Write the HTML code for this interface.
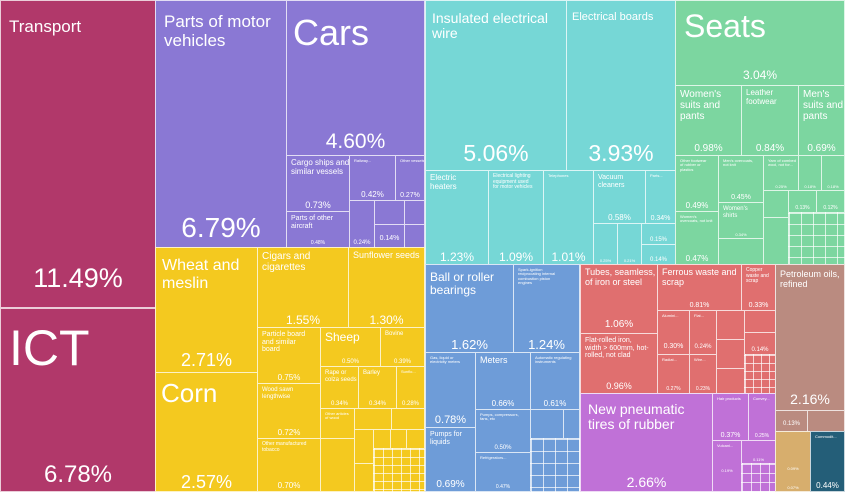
<!DOCTYPE html><html><head><style>
body{margin:0;width:845px;height:492px;overflow:hidden;background:#fff;font-family:"Liberation Sans",sans-serif;color:#fff}
.b{position:absolute;box-sizing:border-box;border:1px solid rgba(255,255,255,.75);overflow:hidden}
.t{position:absolute;left:4px;top:3px;line-height:1.1;font-weight:normal;white-space:nowrap}
.p{position:absolute;left:0;right:0;text-align:center;bottom:1px;line-height:1}
</style></head><body>
<div class="b" style="left:0;top:0;width:156px;height:308px;background:#B1386A"><div class="t" style="font-size:17px;top:17px;left:8px">Transport</div><div class="p" style="font-size:27px;bottom:15px">11.49%</div></div>
<div class="b" style="left:0;top:308px;width:156px;height:184px;background:#B1386A"><div class="t" style="font-size:50px;top:12px;left:8px">ICT</div><div class="p" style="font-size:24px;bottom:4px">6.78%</div></div>
<div class="b" style="left:155px;top:0;width:132px;height:248px;background:#8A78D4"><div class="t" style="font-size:17px;top:12px;left:8px">Parts of motor<br>vehicles</div><div class="p" style="font-size:28px;bottom:5px">6.79%</div></div>
<div class="b" style="left:286px;top:0;width:139px;height:156px;background:#8A78D4"><div class="t" style="font-size:36px;top:12px;left:6px">Cars</div><div class="p" style="font-size:21px;bottom:3px">4.60%</div></div>
<div class="b" style="left:286px;top:155px;width:64px;height:57px;background:#8A78D4"><div class="t" style="font-size:8px">Cargo ships and<br>similar vessels</div><div class="p" style="font-size:9px">0.73%</div></div>
<div class="b" style="left:286px;top:211px;width:64px;height:37px;background:#8A78D4"><div class="t" style="font-size:7px">Parts of other<br>aircraft</div><div class="p" style="font-size:5px">0.48%</div></div>
<div class="b" style="left:349px;top:155px;width:47px;height:46px;background:#8A78D4"><div class="t" style="font-size:4px">Railway...</div><div class="p" style="font-size:8px">0.42%</div></div>
<div class="b" style="left:395px;top:155px;width:30px;height:46px;background:#8A78D4"><div class="t" style="font-size:4px">Other vessels</div><div class="p" style="font-size:7px">0.27%</div></div>
<div class="b" style="left:349px;top:200px;width:26px;height:48px;background:#8A78D4"><div class="p" style="font-size:6px">0.24%</div></div>
<div class="b" style="left:374px;top:200px;width:31px;height:25px;background:#8A78D4"></div>
<div class="b" style="left:404px;top:200px;width:21px;height:25px;background:#8A78D4"></div>
<div class="b" style="left:374px;top:224px;width:31px;height:24px;background:#8A78D4"><div class="p" style="font-size:7px;bottom:5px">0.14%</div></div>
<div class="b" style="left:404px;top:224px;width:21px;height:24px;background:#8A78D4"></div>
<div class="b" style="left:155px;top:247px;width:103px;height:126px;background:#F4C91F"><div class="t" style="font-size:16px;top:9px;left:6px">Wheat and<br>meslin</div><div class="p" style="font-size:18px;bottom:3px">2.71%</div></div>
<div class="b" style="left:155px;top:372px;width:103px;height:120px;background:#F4C91F"><div class="t" style="font-size:26px;top:6px;left:5px">Corn</div><div class="p" style="font-size:18px;bottom:0">2.57%</div></div>
<div class="b" style="left:257px;top:247px;width:92px;height:81px;background:#F4C91F"><div class="t" style="font-size:10px">Cigars and<br>cigarettes</div><div class="p" style="font-size:12px">1.55%</div></div>
<div class="b" style="left:348px;top:247px;width:77px;height:81px;background:#F4C91F"><div class="t" style="font-size:9px">Sunflower seeds</div><div class="p" style="font-size:12px">1.30%</div></div>
<div class="b" style="left:257px;top:327px;width:64px;height:57px;background:#F4C91F"><div class="t" style="font-size:7px">Particle board<br>and similar<br>board</div><div class="p" style="font-size:8px">0.75%</div></div>
<div class="b" style="left:257px;top:383px;width:64px;height:56px;background:#F4C91F"><div class="t" style="font-size:6px">Wood sawn<br>lengthwise</div><div class="p" style="font-size:8px">0.72%</div></div>
<div class="b" style="left:257px;top:438px;width:64px;height:54px;background:#F4C91F"><div class="t" style="font-size:5px">Other manufactured<br>tobacco</div><div class="p" style="font-size:8px">0.70%</div></div>
<div class="b" style="left:320px;top:327px;width:61px;height:40px;background:#F4C91F"><div class="t" style="font-size:12px">Sheep</div><div class="p" style="font-size:6px">0.50%</div></div>
<div class="b" style="left:380px;top:327px;width:45px;height:40px;background:#F4C91F"><div class="t" style="font-size:6px">Bovine</div><div class="p" style="font-size:6px">0.39%</div></div>
<div class="b" style="left:320px;top:366px;width:39px;height:43px;background:#F4C91F"><div class="t" style="font-size:6px">Rape or<br>colza seeds</div><div class="p" style="font-size:6px">0.34%</div></div>
<div class="b" style="left:358px;top:366px;width:39px;height:43px;background:#F4C91F"><div class="t" style="font-size:6px">Barley</div><div class="p" style="font-size:6px">0.34%</div></div>
<div class="b" style="left:396px;top:366px;width:29px;height:43px;background:#F4C91F"><div class="t" style="font-size:4px">Sunflo...</div><div class="p" style="font-size:6px">0.28%</div></div>
<div class="b" style="left:320px;top:408px;width:35px;height:31px;background:#F4C91F"><div class="t" style="font-size:4px">Other articles<br>of wood</div></div>
<div class="b" style="left:320px;top:438px;width:35px;height:54px;background:#F4C91F"></div>
<div class="b" style="left:354px;top:408px;width:38px;height:22px;background:#F4C91F"></div>
<div class="b" style="left:391px;top:408px;width:34px;height:22px;background:#F4C91F"></div>
<div class="b" style="left:354px;top:429px;width:20px;height:35px;background:#F4C91F"></div>
<div class="b" style="left:373px;top:429px;width:18px;height:20px;background:#F4C91F"></div>
<div class="b" style="left:390px;top:429px;width:17px;height:20px;background:#F4C91F"></div>
<div class="b" style="left:406px;top:429px;width:19px;height:20px;background:#F4C91F"></div>
<div class="b" style="left:354px;top:463px;width:20px;height:29px;background:#F4C91F"></div>
<div class="b" style="left:373px;top:448px;width:52px;height:44px;background:#F4C91F;background-image:linear-gradient(90deg,rgba(255,255,255,.7) 1px,transparent 1px),linear-gradient(rgba(255,255,255,.7) 1px,transparent 1px);background-size:9px 8px"></div>
<div class="b" style="left:425px;top:0;width:142px;height:171px;background:#76D7D6"><div class="t" style="font-size:14px;top:10px;left:6px">Insulated electrical<br>wire</div><div class="p" style="font-size:23px;bottom:5px">5.06%</div></div>
<div class="b" style="left:566px;top:0;width:110px;height:171px;background:#76D7D6"><div class="t" style="font-size:11px;top:10px;left:5px">Electrical boards</div><div class="p" style="font-size:23px;bottom:5px">3.93%</div></div>
<div class="b" style="left:425px;top:170px;width:64px;height:95px;background:#76D7D6"><div class="t" style="font-size:8px">Electric<br>heaters</div><div class="p" style="font-size:12px">1.23%</div></div>
<div class="b" style="left:488px;top:170px;width:56px;height:95px;background:#76D7D6"><div class="t" style="font-size:5px">Electrical lighting<br>equipment used<br>for motor vehicles</div><div class="p" style="font-size:12px">1.09%</div></div>
<div class="b" style="left:543px;top:170px;width:51px;height:95px;background:#76D7D6"><div class="t" style="font-size:4px">Telephones</div><div class="p" style="font-size:12px">1.01%</div></div>
<div class="b" style="left:593px;top:170px;width:53px;height:54px;background:#76D7D6"><div class="t" style="font-size:7px">Vacuum<br>cleaners</div><div class="p" style="font-size:8px">0.58%</div></div>
<div class="b" style="left:645px;top:170px;width:31px;height:54px;background:#76D7D6"><div class="t" style="font-size:4px">Parts...</div><div class="p" style="font-size:7px">0.34%</div></div>
<div class="b" style="left:593px;top:223px;width:25px;height:42px;background:#76D7D6"><div class="p" style="font-size:4px">0.25%</div></div>
<div class="b" style="left:617px;top:223px;width:25px;height:42px;background:#76D7D6"><div class="p" style="font-size:4px">0.21%</div></div>
<div class="b" style="left:641px;top:223px;width:35px;height:22px;background:#76D7D6"><div class="p" style="font-size:6px">0.15%</div></div>
<div class="b" style="left:641px;top:244px;width:35px;height:21px;background:#76D7D6"><div class="p" style="font-size:6px">0.14%</div></div>
<div class="b" style="left:675px;top:0;width:170px;height:86px;background:#7CD6A0"><div class="t" style="font-size:32px;top:8px;left:8px">Seats</div><div class="p" style="font-size:12px;bottom:4px">3.04%</div></div>
<div class="b" style="left:675px;top:85px;width:67px;height:71px;background:#7CD6A0"><div class="t" style="font-size:10px">Women's<br>suits and<br>pants</div><div class="p" style="font-size:10px">0.98%</div></div>
<div class="b" style="left:741px;top:85px;width:58px;height:71px;background:#7CD6A0"><div class="t" style="font-size:8px">Leather<br>footwear</div><div class="p" style="font-size:10px">0.84%</div></div>
<div class="b" style="left:798px;top:85px;width:47px;height:71px;background:#7CD6A0"><div class="t" style="font-size:10px">Men's<br>suits and<br>pants</div><div class="p" style="font-size:10px">0.69%</div></div>
<div class="b" style="left:675px;top:155px;width:44px;height:57px;background:#7CD6A0"><div class="t" style="font-size:4px">Other footwear<br>of rubber or<br>plastics</div><div class="p" style="font-size:8px">0.49%</div></div>
<div class="b" style="left:675px;top:211px;width:44px;height:54px;background:#7CD6A0"><div class="t" style="font-size:4px">Women's<br>overcoats, not knit</div><div class="p" style="font-size:8px">0.47%</div></div>
<div class="b" style="left:718px;top:155px;width:46px;height:48px;background:#7CD6A0"><div class="t" style="font-size:4px">Men's overcoats,<br>not knit</div><div class="p" style="font-size:7px">0.45%</div></div>
<div class="b" style="left:718px;top:202px;width:46px;height:37px;background:#7CD6A0"><div class="t" style="font-size:6px">Women's<br>shirts</div><div class="p" style="font-size:4px">0.34%</div></div>
<div class="b" style="left:718px;top:238px;width:46px;height:27px;background:#7CD6A0"></div>
<div class="b" style="left:763px;top:155px;width:36px;height:36px;background:#7CD6A0"><div class="t" style="font-size:4px">Yarn of combed<br>wool, not for...</div><div class="p" style="font-size:4px">0.25%</div></div>
<div class="b" style="left:798px;top:155px;width:24px;height:36px;background:#7CD6A0"><div class="p" style="font-size:4px">0.18%</div></div>
<div class="b" style="left:821px;top:155px;width:24px;height:36px;background:#7CD6A0"><div class="p" style="font-size:4px">0.18%</div></div>
<div class="b" style="left:763px;top:190px;width:26px;height:28px;background:#7CD6A0"></div>
<div class="b" style="left:788px;top:190px;width:29px;height:23px;background:#7CD6A0"><div class="p" style="font-size:5px">0.13%</div></div>
<div class="b" style="left:816px;top:190px;width:29px;height:23px;background:#7CD6A0"><div class="p" style="font-size:5px">0.12%</div></div>
<div class="b" style="left:763px;top:217px;width:26px;height:48px;background:#7CD6A0"></div>
<div class="b" style="left:788px;top:212px;width:57px;height:53px;background:#7CD6A0;background-image:linear-gradient(90deg,rgba(255,255,255,.7) 1px,transparent 1px),linear-gradient(rgba(255,255,255,.7) 1px,transparent 1px);background-size:12px 11px"></div>
<div class="b" style="left:425px;top:264px;width:89px;height:89px;background:#6E9CD8"><div class="t" style="font-size:12px;top:6px">Ball or roller<br>bearings</div><div class="p" style="font-size:13px">1.62%</div></div>
<div class="b" style="left:513px;top:264px;width:67px;height:89px;background:#6E9CD8"><div class="t" style="font-size:4px">Spark-ignition<br>reciprocating internal<br>combustion piston<br>engines</div><div class="p" style="font-size:13px">1.24%</div></div>
<div class="b" style="left:425px;top:352px;width:51px;height:76px;background:#6E9CD8"><div class="t" style="font-size:4px">Gas, liquid or<br>electricity meters</div><div class="p" style="font-size:11px">0.78%</div></div>
<div class="b" style="left:425px;top:427px;width:51px;height:65px;background:#6E9CD8"><div class="t" style="font-size:7px">Pumps for<br>liquids</div><div class="p" style="font-size:10px">0.69%</div></div>
<div class="b" style="left:475px;top:352px;width:56px;height:58px;background:#6E9CD8"><div class="t" style="font-size:9px">Meters</div><div class="p" style="font-size:8px">0.66%</div></div>
<div class="b" style="left:530px;top:352px;width:50px;height:58px;background:#6E9CD8"><div class="t" style="font-size:4px">Automatic regulating<br>instruments</div><div class="p" style="font-size:8px">0.61%</div></div>
<div class="b" style="left:475px;top:409px;width:56px;height:44px;background:#6E9CD8"><div class="t" style="font-size:4px">Pumps, compressors,<br>fans, etc</div><div class="p" style="font-size:6px">0.50%</div></div>
<div class="b" style="left:475px;top:452px;width:56px;height:40px;background:#6E9CD8"><div class="t" style="font-size:4px">Refrigerators...</div><div class="p" style="font-size:5px">0.47%</div></div>
<div class="b" style="left:530px;top:409px;width:34px;height:30px;background:#6E9CD8"></div>
<div class="b" style="left:563px;top:409px;width:17px;height:30px;background:#6E9CD8"></div>
<div class="b" style="left:530px;top:438px;width:50px;height:54px;background:#6E9CD8;background-image:linear-gradient(90deg,rgba(255,255,255,.7) 1px,transparent 1px),linear-gradient(rgba(255,255,255,.7) 1px,transparent 1px);background-size:12px 12px"></div>
<div class="b" style="left:580px;top:264px;width:78px;height:70px;background:#E06F6F"><div class="t" style="font-size:9px">Tubes, seamless,<br>of iron or steel</div><div class="p" style="font-size:10px;bottom:3px">1.06%</div></div>
<div class="b" style="left:580px;top:333px;width:78px;height:61px;background:#E06F6F"><div class="t" style="font-size:7px">Flat-rolled iron,<br>width &gt; 600mm, hot-<br>rolled, not clad</div><div class="p" style="font-size:9px;bottom:2px">0.96%</div></div>
<div class="b" style="left:657px;top:264px;width:85px;height:47px;background:#E06F6F"><div class="t" style="font-size:9px">Ferrous waste and<br>scrap</div><div class="p" style="font-size:7px">0.81%</div></div>
<div class="b" style="left:741px;top:264px;width:35px;height:47px;background:#E06F6F"><div class="t" style="font-size:5px">Copper<br>waste and<br>scrap</div><div class="p" style="font-size:7px">0.33%</div></div>
<div class="b" style="left:657px;top:310px;width:33px;height:45px;background:#E06F6F"><div class="t" style="font-size:4px">Alumini...</div><div class="p" style="font-size:7px;bottom:4px">0.30%</div></div>
<div class="b" style="left:689px;top:310px;width:28px;height:45px;background:#E06F6F"><div class="t" style="font-size:4px">Flat...</div><div class="p" style="font-size:6px;bottom:4px">0.24%</div></div>
<div class="b" style="left:657px;top:354px;width:33px;height:40px;background:#E06F6F"><div class="t" style="font-size:4px">Radiat...</div><div class="p" style="font-size:5px">0.27%</div></div>
<div class="b" style="left:689px;top:354px;width:28px;height:40px;background:#E06F6F"><div class="t" style="font-size:4px">Wire...</div><div class="p" style="font-size:5px">0.23%</div></div>
<div class="b" style="left:716px;top:310px;width:29px;height:30px;background:#E06F6F"></div>
<div class="b" style="left:716px;top:339px;width:29px;height:30px;background:#E06F6F"></div>
<div class="b" style="left:716px;top:368px;width:29px;height:26px;background:#E06F6F"></div>
<div class="b" style="left:744px;top:310px;width:32px;height:23px;background:#E06F6F"></div>
<div class="b" style="left:744px;top:332px;width:32px;height:23px;background:#E06F6F"><div class="p" style="font-size:6px">0.14%</div></div>
<div class="b" style="left:744px;top:354px;width:32px;height:40px;background:#E06F6F;background-image:linear-gradient(90deg,rgba(255,255,255,.7) 1px,transparent 1px),linear-gradient(rgba(255,255,255,.7) 1px,transparent 1px);background-size:8px 8px"></div>
<div class="b" style="left:580px;top:393px;width:133px;height:99px;background:#C071D7"><div class="t" style="font-size:14px;top:8px;left:7px">New pneumatic<br>tires of rubber</div><div class="p" style="font-size:14px;bottom:2px">2.66%</div></div>
<div class="b" style="left:712px;top:393px;width:37px;height:48px;background:#C071D7"><div class="t" style="font-size:4px">Hair products</div><div class="p" style="font-size:7px">0.37%</div></div>
<div class="b" style="left:748px;top:393px;width:28px;height:48px;background:#C071D7"><div class="t" style="font-size:4px">Convey...</div><div class="p" style="font-size:5px">0.25%</div></div>
<div class="b" style="left:712px;top:440px;width:30px;height:52px;background:#C071D7"><div class="t" style="font-size:4px">Vulcani...</div><div class="p" style="font-size:4px;bottom:18px">0.19%</div></div>
<div class="b" style="left:741px;top:440px;width:35px;height:24px;background:#C071D7"><div class="p" style="font-size:4px">0.11%</div></div>
<div class="b" style="left:741px;top:463px;width:35px;height:29px;background:#C071D7;background-image:linear-gradient(90deg,rgba(255,255,255,.7) 1px,transparent 1px),linear-gradient(rgba(255,255,255,.7) 1px,transparent 1px);background-size:9px 9px"></div>
<div class="b" style="left:775px;top:264px;width:70px;height:147px;background:#BA8B80"><div class="t" style="font-size:9px;top:5px">Petroleum oils,<br>refined</div><div class="p" style="font-size:14px;bottom:4px">2.16%</div></div>
<div class="b" style="left:775px;top:410px;width:33px;height:22px;background:#BA8B80"><div class="p" style="font-size:6px;bottom:4px">0.13%</div></div>
<div class="b" style="left:807px;top:410px;width:38px;height:22px;background:#BA8B80"></div>
<div class="b" style="left:775px;top:431px;width:36px;height:61px;background:#D7AE6D"><div class="p" style="font-size:4px;bottom:20px">0.09%</div><div class="p" style="font-size:4px">0.07%</div></div>
<div class="b" style="left:810px;top:431px;width:35px;height:61px;background:#245E78"><div class="t" style="font-size:4px">Commodit...</div><div class="p" style="font-size:8px">0.44%</div></div>
</body></html>
